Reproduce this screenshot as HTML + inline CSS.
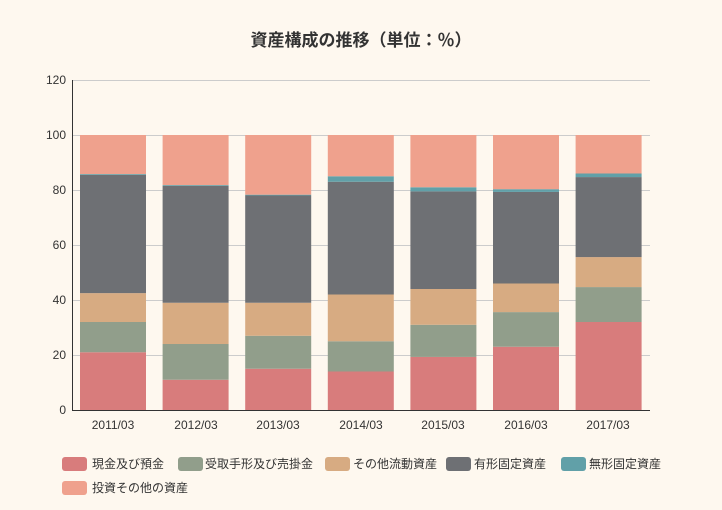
<!DOCTYPE html>
<html><head><meta charset="utf-8"><style>
html,body{margin:0;padding:0;background:#fef8ef;}
svg{display:block;font-family:"Liberation Sans","Noto Sans CJK JP",sans-serif;}
</style></head><body>
<svg width="722" height="510" viewBox="0 0 722 510">
<rect width="722" height="510" fill="#fef8ef"/>
<text x="361" y="46" text-anchor="middle" font-size="17" font-weight="bold" fill="#333">資産構成の推移（単位：％）</text>
<g stroke="#ccc" stroke-width="1">
<line x1="72" y1="80.5" x2="650" y2="80.5"/>
<line x1="72" y1="135.5" x2="650" y2="135.5"/>
<line x1="72" y1="190.5" x2="650" y2="190.5"/>
<line x1="72" y1="245.5" x2="650" y2="245.5"/>
<line x1="72" y1="300.5" x2="650" y2="300.5"/>
<line x1="72" y1="355.5" x2="650" y2="355.5"/>
</g>
<g font-size="12" fill="#333" text-anchor="end">
<text x="66" y="84">120</text><text x="66" y="139">100</text><text x="66" y="194">80</text>
<text x="66" y="249">60</text><text x="66" y="304">40</text><text x="66" y="359">20</text><text x="66" y="414">0</text>
</g>
<g>
<rect x="80" y="352.25" width="66" height="57.75" fill="#d87c7c"/>
<rect x="80" y="322" width="66" height="30.25" fill="#919e8b"/>
<rect x="80" y="293.125" width="66" height="28.875" fill="#d7ab82"/>
<rect x="80" y="174.875" width="66" height="118.25" fill="#6e7074"/>
<rect x="80" y="174.05" width="66" height="0.825" fill="#61a0a8"/>
<rect x="80" y="135" width="66" height="39.05" fill="#efa18d"/>

<rect x="162.6" y="379.75" width="66" height="30.25" fill="#d87c7c"/>
<rect x="162.6" y="344" width="66" height="35.75" fill="#919e8b"/>
<rect x="162.6" y="302.75" width="66" height="41.25" fill="#d7ab82"/>
<rect x="162.6" y="185.875" width="66" height="116.875" fill="#6e7074"/>
<rect x="162.6" y="185.05" width="66" height="0.825" fill="#61a0a8"/>
<rect x="162.6" y="135" width="66" height="50.05" fill="#efa18d"/>

<rect x="245.2" y="368.75" width="66" height="41.25" fill="#d87c7c"/>
<rect x="245.2" y="335.75" width="66" height="33" fill="#919e8b"/>
<rect x="245.2" y="302.75" width="66" height="33" fill="#d7ab82"/>
<rect x="245.2" y="195.5" width="66" height="107.25" fill="#6e7074"/>
<rect x="245.2" y="194.675" width="66" height="0.825" fill="#61a0a8"/>
<rect x="245.2" y="135" width="66" height="59.675" fill="#efa18d"/>

<rect x="327.8" y="371.5" width="66" height="38.5" fill="#d87c7c"/>
<rect x="327.8" y="341.25" width="66" height="30.25" fill="#919e8b"/>
<rect x="327.8" y="294.5" width="66" height="46.75" fill="#d7ab82"/>
<rect x="327.8" y="181.75" width="66" height="112.75" fill="#6e7074"/>
<rect x="327.8" y="176.25" width="66" height="5.5" fill="#61a0a8"/>
<rect x="327.8" y="135" width="66" height="41.25" fill="#efa18d"/>

<rect x="410.4" y="356.925" width="66" height="53.075" fill="#d87c7c"/>
<rect x="410.4" y="324.75" width="66" height="32.175" fill="#919e8b"/>
<rect x="410.4" y="289" width="66" height="35.75" fill="#d7ab82"/>
<rect x="410.4" y="191.375" width="66" height="97.625" fill="#6e7074"/>
<rect x="410.4" y="187.25" width="66" height="4.125" fill="#61a0a8"/>
<rect x="410.4" y="135" width="66" height="52.25" fill="#efa18d"/>

<rect x="493" y="346.75" width="66" height="63.25" fill="#d87c7c"/>
<rect x="493" y="312.1" width="66" height="34.65" fill="#919e8b"/>
<rect x="493" y="283.5" width="66" height="28.6" fill="#d7ab82"/>
<rect x="493" y="191.925" width="66" height="91.575" fill="#6e7074"/>
<rect x="493" y="189.175" width="66" height="2.75" fill="#61a0a8"/>
<rect x="493" y="135" width="66" height="54.175" fill="#efa18d"/>

<rect x="575.6" y="322" width="66" height="88" fill="#d87c7c"/>
<rect x="575.6" y="287.075" width="66" height="34.925" fill="#919e8b"/>
<rect x="575.6" y="257.1" width="66" height="29.975" fill="#d7ab82"/>
<rect x="575.6" y="177.075" width="66" height="80.025" fill="#6e7074"/>
<rect x="575.6" y="173.5" width="66" height="3.575" fill="#61a0a8"/>
<rect x="575.6" y="135" width="66" height="38.5" fill="#efa18d"/>
</g>
<line x1="72.5" y1="80" x2="72.5" y2="410" stroke="#333"/>
<line x1="72" y1="410.5" x2="650" y2="410.5" stroke="#333"/>
<g font-size="12" fill="#333" text-anchor="middle">
<text x="113" y="429">2011/03</text><text x="196" y="429">2012/03</text><text x="278" y="429">2013/03</text>
<text x="361" y="429">2014/03</text><text x="443" y="429">2015/03</text><text x="526" y="429">2016/03</text><text x="608" y="429">2017/03</text>
</g>
<g font-size="12" fill="#333">
<rect x="62" y="457" width="25" height="14" rx="3" fill="#d87c7c"/><text x="92" y="468">現金及び預金</text>
<rect x="178" y="457" width="25" height="14" rx="3" fill="#919e8b"/><text x="205" y="468">受取手形及び売掛金</text>
<rect x="325" y="457" width="25" height="14" rx="3" fill="#d7ab82"/><text x="353" y="468">その他流動資産</text>
<rect x="446" y="457" width="25" height="14" rx="3" fill="#6e7074"/><text x="474" y="468">有形固定資産</text>
<rect x="561" y="457" width="25" height="14" rx="3" fill="#61a0a8"/><text x="589" y="468">無形固定資産</text>
<rect x="62" y="481" width="25" height="14" rx="3" fill="#efa18d"/><text x="92" y="492">投資その他の資産</text>
</g>
</svg>
</body></html>
